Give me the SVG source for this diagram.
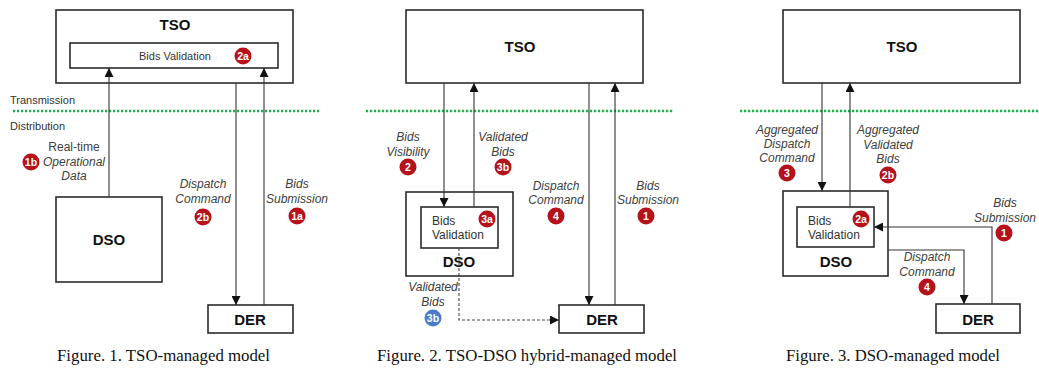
<svg xmlns="http://www.w3.org/2000/svg" width="1039" height="369" viewBox="0 0 1039 369">
<style>
.box{fill:#fff;stroke:#2b2b2b;stroke-width:1.6}
.ttl{font-family:"Liberation Sans",Arial,sans-serif;font-weight:bold;font-size:15px;fill:#111;text-anchor:middle}
.in{font-family:"Liberation Sans",Arial,sans-serif;font-size:12px;fill:#333}
.lbl{font-family:"Liberation Sans",Arial,sans-serif;font-size:12px;font-style:italic;fill:#404040;text-anchor:middle}
.zone{font-family:"Liberation Sans",Arial,sans-serif;font-size:11px;fill:#333}
.cap{font-family:"Liberation Serif","Times New Roman",serif;font-size:16.5px;fill:#111}
.con{fill:none;stroke:#333;stroke-width:1.1}
.dash{fill:none;stroke:#444;stroke-width:1.1;stroke-dasharray:3 2}
.grid{fill:none;stroke:#1fb04a;stroke-width:2.6;stroke-dasharray:2.2 1.8}
.bd{fill:#b5121b}
.bb{fill:#4a7cc9}
.bt{font-family:"Liberation Sans",Arial,sans-serif;font-weight:bold;font-size:10.5px;fill:#fff;text-anchor:middle}
</style>
<defs>
<marker id="ah" viewBox="0 0 10 10" refX="10" refY="5" markerWidth="9" markerHeight="9" markerUnits="userSpaceOnUse" orient="auto">
<path d="M0,0 L10,5 L0,10 z" fill="#111"/>
</marker>
</defs>
<rect width="1039" height="369" fill="#fff"/>

<!-- zone separators -->
<g id="zones">
<line class="grid" x1="13" y1="111" x2="320" y2="111"/>
<line class="grid" x1="366" y1="111" x2="673" y2="111"/>
<line class="grid" x1="740" y1="111" x2="1039" y2="111"/>
<text class="zone" x="10" y="104">Transmission</text>
<text class="zone" x="10" y="130">Distribution</text>
</g>

<!-- Figure 1 nodes -->
<g id="f1-tso">
<rect class="box" x="56" y="10" width="237" height="73"/>
<text class="ttl" x="175" y="30">TSO</text>
</g>
<g id="f1-validation">
<rect class="box" x="70" y="43" width="208" height="25"/>
<text class="in" x="175" y="60" style="text-anchor:middle;font-size:11px">Bids Validation</text>
<circle class="bd" cx="243" cy="56" r="8.5"/><text class="bt" x="243" y="60">2a</text>
</g>
<g id="f1-dso">
<rect class="box" x="56" y="197" width="106" height="85"/>
<text class="ttl" x="109" y="245">DSO</text>
</g>
<g id="f1-der">
<rect class="box" x="208" y="305" width="85" height="28"/>
<text class="ttl" x="250" y="325">DER</text>
</g>

<!-- Figure 2 nodes -->
<g id="f2-tso">
<rect class="box" x="406" y="10" width="237" height="73"/>
<text class="ttl" x="520" y="52">TSO</text>
</g>
<g id="f2-dso">
<rect class="box" x="406" y="192" width="107" height="84"/>
<text class="ttl" x="459" y="267">DSO</text>
</g>
<g id="f2-validation">
<rect class="box" x="421" y="207" width="77" height="41"/>
<text class="in" x="432" y="225">Bids</text>
<text class="in" x="432" y="239">Validation</text>
<circle class="bd" cx="487" cy="219" r="8.5"/><text class="bt" x="487" y="223">3a</text>
</g>
<g id="f2-der">
<rect class="box" x="559" y="305" width="85" height="28"/>
<text class="ttl" x="602" y="325">DER</text>
</g>

<!-- Figure 3 nodes -->
<g id="f3-tso">
<rect class="box" x="783" y="10" width="237" height="73"/>
<text class="ttl" x="902" y="52">TSO</text>
</g>
<g id="f3-dso">
<rect class="box" x="783" y="191" width="105" height="85"/>
<text class="ttl" x="836" y="267">DSO</text>
</g>
<g id="f3-validation">
<rect class="box" x="797" y="207" width="77" height="40"/>
<text class="in" x="808" y="225">Bids</text>
<text class="in" x="808" y="239">Validation</text>
<circle class="bd" cx="861" cy="219" r="8.5"/><text class="bt" x="861" y="223">2a</text>
</g>
<g id="f3-der">
<rect class="box" x="936" y="304" width="84" height="29"/>
<text class="ttl" x="978" y="325">DER</text>
</g>

<!-- connectors -->
<g id="connectors">
<!-- fig 1 -->
<line class="con" x1="109" y1="197" x2="109" y2="68" marker-end="url(#ah)"/>
<line class="con" x1="236" y1="83" x2="236" y2="305" marker-end="url(#ah)"/>
<line class="con" x1="264" y1="305" x2="264" y2="68" marker-end="url(#ah)"/>
<!-- fig 2 -->
<line class="con" x1="444" y1="83" x2="444" y2="207" marker-end="url(#ah)"/>
<line class="con" x1="474" y1="207" x2="474" y2="83" marker-end="url(#ah)"/>
<line class="con" x1="589" y1="83" x2="589" y2="305" marker-end="url(#ah)"/>
<line class="con" x1="615" y1="305" x2="615" y2="83" marker-end="url(#ah)"/>
<polyline class="dash" points="459,248 459,320 559,320" marker-end="url(#ah)"/>
<!-- fig 3 -->
<line class="con" x1="822" y1="83" x2="822" y2="191" marker-end="url(#ah)"/>
<line class="con" x1="850" y1="207" x2="850" y2="83" marker-end="url(#ah)"/>
<polyline class="con" points="992,304 992,227 874,227" marker-end="url(#ah)"/>
<polyline class="con" points="888,250 964,250 964,304" marker-end="url(#ah)"/>
</g>

<!-- Figure 1 labels -->
<g id="f1-labels">
<text class="lbl" x="74" y="151" style="font-style:normal">Real-time</text>
<text class="lbl" x="74" y="166">Operational</text>
<text class="lbl" x="74" y="180">Data</text>
<circle class="bd" cx="31" cy="162" r="8.5"/><text class="bt" x="31" y="166">1b</text>
<text class="lbl" x="203" y="188">Dispatch</text>
<text class="lbl" x="203" y="203">Command</text>
<circle class="bd" cx="203" cy="217" r="8.5"/><text class="bt" x="203" y="221">2b</text>
<text class="lbl" x="297" y="188">Bids</text>
<text class="lbl" x="297" y="203">Submission</text>
<circle class="bd" cx="297" cy="216" r="8.5"/><text class="bt" x="297" y="220">1a</text>
</g>

<!-- Figure 2 labels -->
<g id="f2-labels">
<text class="lbl" x="408" y="141">Bids</text>
<text class="lbl" x="408" y="156">Visibility</text>
<circle class="bd" cx="408" cy="167" r="8.5"/><text class="bt" x="408" y="171">2</text>
<text class="lbl" x="503" y="141">Validated</text>
<text class="lbl" x="503" y="156">Bids</text>
<circle class="bd" cx="503" cy="167" r="8.5"/><text class="bt" x="503" y="171">3b</text>
<text class="lbl" x="556" y="190">Dispatch</text>
<text class="lbl" x="556" y="204">Command</text>
<circle class="bd" cx="556" cy="216" r="8.5"/><text class="bt" x="556" y="220">4</text>
<text class="lbl" x="648" y="190">Bids</text>
<text class="lbl" x="648" y="204">Submission</text>
<circle class="bd" cx="646" cy="216" r="8.5"/><text class="bt" x="646" y="220">1</text>
<text class="lbl" x="433" y="291">Validated</text>
<text class="lbl" x="433" y="306">Bids</text>
<circle class="bb" cx="433" cy="318" r="8.5"/><text class="bt" x="433" y="322">3b</text>
</g>

<!-- Figure 3 labels -->
<g id="f3-labels">
<text class="lbl" x="787" y="134">Aggregated</text>
<text class="lbl" x="787" y="148">Dispatch</text>
<text class="lbl" x="787" y="162">Command</text>
<circle class="bd" cx="787" cy="173" r="8.5"/><text class="bt" x="787" y="177">3</text>
<text class="lbl" x="888" y="134">Aggregated</text>
<text class="lbl" x="888" y="149">Validated</text>
<text class="lbl" x="888" y="163">Bids</text>
<circle class="bd" cx="888" cy="175" r="8.5"/><text class="bt" x="888" y="179">2b</text>
<text class="lbl" x="1005" y="207">Bids</text>
<text class="lbl" x="1005" y="222">Submission</text>
<circle class="bd" cx="1004" cy="233" r="8.5"/><text class="bt" x="1004" y="237">1</text>
<text class="lbl" x="927" y="261">Dispatch</text>
<text class="lbl" x="927" y="276">Command</text>
<circle class="bd" cx="927" cy="287" r="8.5"/><text class="bt" x="927" y="291">4</text>
</g>

<!-- captions -->
<g id="captions">
<text class="cap" x="57" y="361" textLength="213" lengthAdjust="spacingAndGlyphs">Figure. 1. TSO-managed model</text>
<text class="cap" x="377" y="361" textLength="300" lengthAdjust="spacingAndGlyphs">Figure. 2. TSO-DSO hybrid-managed model</text>
<text class="cap" x="786" y="361" textLength="214" lengthAdjust="spacingAndGlyphs">Figure. 3. DSO-managed model</text>
</g>
</svg>
